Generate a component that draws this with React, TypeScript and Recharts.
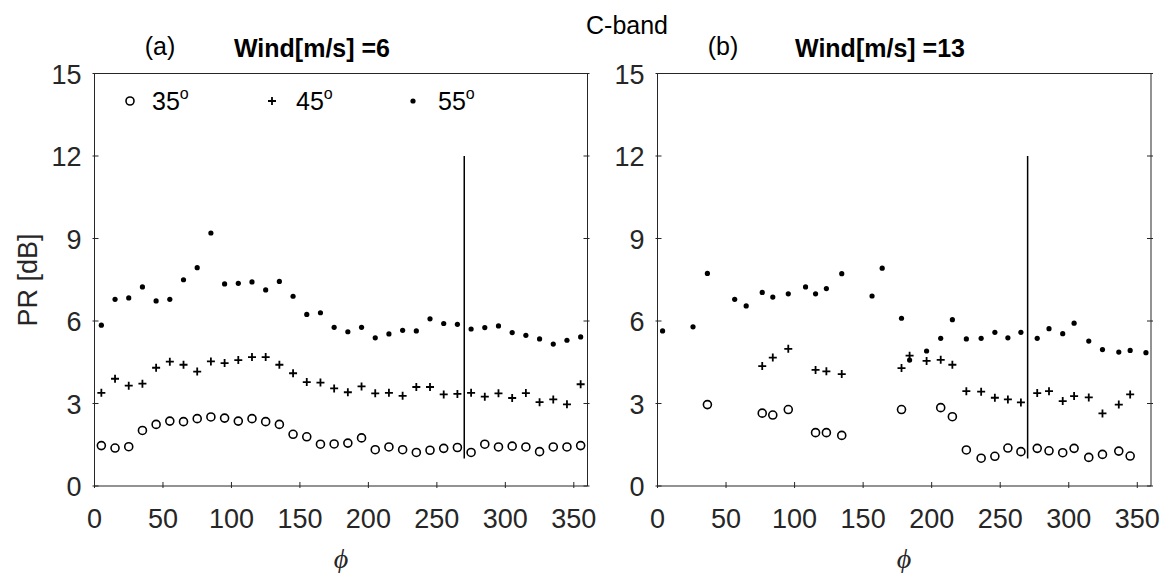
import React from "react"
import { ScatterChart, Scatter, XAxis, YAxis, ReferenceLine } from "recharts"

const PHI_TICKS = [0, 50, 100, 150, 200, 250, 300, 350]
const PR_TICKS = [0, 3, 6, 9, 12, 15]

// panel (a): wind 6 m/s
const phiA = [5, 15, 25, 35, 45, 55, 65, 75, 85, 95, 105, 115, 125, 135, 145, 155, 165, 175,
  185, 195, 205, 215, 225, 235, 245, 255, 265, 275, 285, 295, 305, 315, 325, 335, 345, 355]
const a35 = [1.47, 1.38, 1.43, 2.02, 2.24, 2.36, 2.34, 2.45, 2.51, 2.47, 2.36, 2.45, 2.34, 2.24, 1.88, 1.79, 1.52, 1.53,
  1.56, 1.75, 1.32, 1.42, 1.32, 1.22, 1.3, 1.37, 1.4, 1.22, 1.52, 1.42, 1.45, 1.42, 1.25, 1.42, 1.42, 1.47]
const a45 = [3.39, 3.9, 3.65, 3.72, 4.3, 4.52, 4.41, 4.16, 4.53, 4.47, 4.58, 4.69, 4.69, 4.41, 4.1, 3.78, 3.76, 3.55,
  3.41, 3.62, 3.37, 3.39, 3.28, 3.6, 3.6, 3.33, 3.35, 3.39, 3.25, 3.37, 3.2, 3.38, 3.05, 3.15, 2.97, 3.7]
const a55 = [5.85, 6.79, 6.84, 7.24, 6.73, 6.79, 7.5, 7.94, 9.2, 7.35, 7.37, 7.42, 7.13, 7.44, 6.9, 6.24, 6.3, 5.77,
  5.61, 5.77, 5.39, 5.53, 5.66, 5.64, 6.08, 5.91, 5.88, 5.71, 5.76, 5.82, 5.58, 5.48, 5.35, 5.16, 5.3, 5.42]

// panel (b): wind 13 m/s, not every bin has data
const phiB35 = [36.4, 76.4, 84.1, 95.4, 115.3, 123.2, 134.4, 178, 206.6, 215.1, 225.3, 236.1, 246.1, 255.6,
  265.1, 277, 285.6, 295.6, 303.9, 314.6, 324.6, 336.5, 344.8]
const b35 = [2.96, 2.65, 2.58, 2.78, 1.94, 1.94, 1.84, 2.78, 2.85, 2.52, 1.31, 1.01, 1.08, 1.38,
  1.25, 1.37, 1.28, 1.21, 1.37, 1.04, 1.15, 1.27, 1.09]
const phiB45 = [76.4, 84.1, 95.4, 115.3, 123.2, 134.4, 178, 183.9, 196.3, 206.6, 215.1, 225.3, 236.1, 246.1,
  255.6, 265.1, 277, 285.6, 295.6, 303.9, 314.6, 324.6, 336.5, 344.8]
const b45 = [4.36, 4.67, 4.99, 4.22, 4.17, 4.07, 4.29, 4.74, 4.55, 4.59, 4.41, 3.45, 3.43, 3.21,
  3.15, 3.04, 3.38, 3.45, 3.09, 3.27, 3.22, 2.64, 2.96, 3.33]
const phiB55 = [3.7, 25.9, 36.4, 56.3, 64.7, 76.4, 84.1, 95.4, 108, 115.3, 123.2, 134.4, 156.5, 163.9, 178, 183.9,
  196.3, 206.6, 215.1, 225.3, 236.1, 246.1, 255.6, 265.1, 277, 285.6, 295.6, 303.9, 314.6, 324.6, 336.5, 344.8, 356.3]
const b55 = [5.64, 5.79, 7.73, 6.79, 6.55, 7.04, 6.87, 6.99, 7.24, 6.99, 7.18, 7.72, 6.91, 7.92, 6.1, 4.58,
  4.91, 5.37, 6.05, 5.35, 5.37, 5.59, 5.39, 5.59, 5.37, 5.72, 5.54, 5.92, 5.27, 4.96, 4.87, 4.93, 4.85]

const AXIS = "#262626"
const FONT = "'Liberation Sans', Arial, Helvetica, sans-serif"

const pts = (phi: number[], pr: number[]) => phi.map((p, i) => ({ phi: p, pr: pr[i] }))

const Ring = (p: any) => <circle cx={p.cx} cy={p.cy} r={4} fill="none" stroke="#000" strokeWidth={1.6} />
const Plus = (p: any) => (
  <path d={`M${p.cx - 4},${p.cy}h8M${p.cx},${p.cy - 4}v8`} stroke="#000" strokeWidth={1.8} />
)
const Dot = (p: any) => <circle cx={p.cx} cy={p.cy} r={2.6} fill="#000" />

const BottomTick = ({ x, y, payload }: any) => (
  <g>
    <line x1={x} y1={y} x2={x} y2={y - 6} stroke={AXIS} />
    <text x={x} y={y + 40} textAnchor="middle" fontSize={27} fill={AXIS} fontFamily={FONT}>
      {payload.value}
    </text>
  </g>
)
const LeftTick = ({ x, y, payload }: any) => (
  <g>
    <line x1={x} y1={y} x2={x + 6} y2={y} stroke={AXIS} />
    <text x={x - 11} y={y + 10} textAnchor="end" fontSize={27} fill={AXIS} fontFamily={FONT}>
      {payload.value}
    </text>
  </g>
)
const TopTick = ({ x, y }: any) => <line x1={x} y1={y} x2={x} y2={y + 6} stroke={AXIS} />
const RightTick = ({ x, y }: any) => <line x1={x} y1={y} x2={x - 6} y2={y} stroke={AXIS} />

interface PanelProps {
  left: number
  width: number
  mLeft: number
  mRight: number
  s35: { phi: number; pr: number }[]
  s45: { phi: number; pr: number }[]
  s55: { phi: number; pr: number }[]
}

function Panel({ left, width, mLeft, mRight, s35, s45, s55 }: PanelProps) {
  return (
    <div style={{ position: "absolute", left, top: 0 }}>
      <ScatterChart width={width} height={573} margin={{ top: 72.5, right: mRight, bottom: 86, left: mLeft }}>
        <XAxis type="number" dataKey="phi" domain={[0, 360]} ticks={PHI_TICKS} interval={0}
          height={1} tickSize={0} tickLine={false} tick={<BottomTick />} stroke={AXIS} allowDataOverflow />
        <XAxis xAxisId="top" orientation="top" type="number" domain={[0, 360]} ticks={PHI_TICKS} interval={0}
          height={1} tickSize={0} tickLine={false} tick={<TopTick />} stroke={AXIS} allowDataOverflow />
        <YAxis type="number" dataKey="pr" domain={[0, 15]} ticks={PR_TICKS} interval={0}
          width={60} tickSize={0} tickLine={false} tick={<LeftTick />} stroke={AXIS} allowDataOverflow />
        <YAxis yAxisId="right" orientation="right" type="number" domain={[0, 15]} ticks={PR_TICKS} interval={0}
          width={1} tickSize={0} tickLine={false} tick={<RightTick />} stroke={AXIS} allowDataOverflow />
        <ReferenceLine segment={[{ x: 270, y: 1 }, { x: 270, y: 12 }]} stroke="#000" strokeWidth={1.5} />
        <Scatter data={s35} shape={Ring} isAnimationActive={false} />
        <Scatter data={s45} shape={Plus} isAnimationActive={false} />
        <Scatter data={s55} shape={Dot} isAnimationActive={false} />
      </ScatterChart>
    </div>
  )
}

export default function App() {
  const txt = { fontFamily: FONT, fill: "#000" }
  return (
    <div style={{ position: "relative", width: 1167, height: 573, background: "#fff", overflow: "hidden" }}>
      <style>{"body{margin:0}"}</style>
      <Panel left={0} width={600} mLeft={34.5} mRight={11.5}
        s35={pts(phiA, a35)} s45={pts(phiA, a45)} s55={pts(phiA, a55)} />
      <Panel left={560} width={607} mLeft={37.5} mRight={15}
        s35={pts(phiB35, b35)} s45={pts(phiB45, b45)} s55={pts(phiB55, b55)} />
      <svg width={1167} height={573} style={{ position: "absolute", left: 0, top: 0, pointerEvents: "none" }}>
        <text x={627} y={34} textAnchor="middle" fontSize={25} {...txt}>C-band</text>
        <text x={160} y={55} textAnchor="middle" fontSize={25} {...txt}>(a)</text>
        <text x={312} y={57} textAnchor="middle" fontSize={25} fontWeight="bold" {...txt}>Wind[m/s] =6</text>
        <text x={723} y={55} textAnchor="middle" fontSize={25} {...txt}>(b)</text>
        <text x={880} y={57} textAnchor="middle" fontSize={25} fontWeight="bold" {...txt}>Wind[m/s] =13</text>
        <text transform="translate(37,280) rotate(-90)" textAnchor="middle" fontSize={27} {...txt} fill={AXIS}>PR [dB]</text>
        <text x={341} y={568} textAnchor="middle" fontSize={28} fontStyle="italic"
          fontFamily="'Liberation Serif', 'DejaVu Serif', serif" fill={AXIS}>ϕ</text>
        <text x={904} y={568} textAnchor="middle" fontSize={28} fontStyle="italic"
          fontFamily="'Liberation Serif', 'DejaVu Serif', serif" fill={AXIS}>ϕ</text>
        {/* legend */}
        <circle cx={130} cy={101} r={4} fill="none" stroke="#000" strokeWidth={1.6} />
        <text x={152} y={110} fontSize={25} {...txt}>35<tspan dy={-11} fontSize={16}>o</tspan></text>
        <path d="M268,101h8M272,97v8" stroke="#000" strokeWidth={1.8} />
        <text x={296} y={110} fontSize={25} {...txt}>45<tspan dy={-11} fontSize={16}>o</tspan></text>
        <circle cx={413} cy={101} r={2.6} fill="#000" />
        <text x={438} y={110} fontSize={25} {...txt}>55<tspan dy={-11} fontSize={16}>o</tspan></text>
      </svg>
    </div>
  )
}
